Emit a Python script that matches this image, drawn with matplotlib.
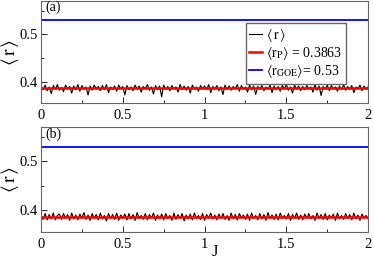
import numpy as np
import matplotlib
matplotlib.use("Agg")
import matplotlib.pyplot as plt
from matplotlib.ticker import MultipleLocator

plt.rcParams["font.family"] = ["Liberation Serif", "DejaVu Serif"]
plt.rcParams["mathtext.fontset"] = "stix"

# mean level-spacing ratio vs J, panel (a)
r_a = [
    0.390, 0.383, 0.393, 0.381, 0.389, 0.375, 0.392, 0.384, 0.394, 0.382,
    0.388, 0.379, 0.393, 0.385, 0.390, 0.376, 0.391, 0.383, 0.394, 0.380,
    0.392, 0.384, 0.389, 0.372, 0.391, 0.382, 0.393, 0.385, 0.390, 0.381,
    0.392, 0.383, 0.394, 0.377, 0.389, 0.384, 0.391, 0.380, 0.393, 0.385,
    0.390, 0.372, 0.392, 0.383, 0.389, 0.381, 0.393, 0.384, 0.391, 0.378,
    0.390, 0.385, 0.394, 0.382, 0.389, 0.374, 0.392, 0.383, 0.391, 0.368,
    0.393, 0.384, 0.390, 0.381, 0.392, 0.385, 0.389, 0.378, 0.394, 0.383,
    0.391, 0.382, 0.390, 0.376, 0.393, 0.384, 0.389, 0.380, 0.392, 0.385,
    0.391, 0.383, 0.394, 0.377, 0.390, 0.384, 0.392, 0.381, 0.389, 0.373,
    0.393, 0.383, 0.391, 0.382, 0.390, 0.385, 0.394, 0.380, 0.392, 0.384,
    0.389, 0.378, 0.393, 0.383, 0.391, 0.373, 0.390, 0.385, 0.392, 0.381,
    0.389, 0.384, 0.393, 0.377, 0.391, 0.383, 0.390, 0.380, 0.392, 0.385,
    0.394, 0.382, 0.389, 0.376, 0.393, 0.384, 0.391, 0.381, 0.390, 0.383,
    0.392, 0.385, 0.389, 0.378, 0.394, 0.382, 0.391, 0.371, 0.390, 0.384,
    0.393, 0.381, 0.392, 0.385, 0.389, 0.380, 0.391, 0.383, 0.394, 0.382,
    0.390, 0.384, 0.392, 0.377, 0.389, 0.385, 0.393, 0.381, 0.391, 0.384, 0.389,
]

# panel (b)
r_b = [
    0.390, 0.381, 0.393, 0.380, 0.391, 0.382, 0.394, 0.380, 0.389, 0.392,
    0.381, 0.393, 0.383, 0.391, 0.379, 0.394, 0.382, 0.390, 0.380, 0.392,
    0.384, 0.395, 0.381, 0.390, 0.379, 0.393, 0.383, 0.391, 0.380, 0.394,
    0.382, 0.389, 0.378, 0.393, 0.383, 0.391, 0.381, 0.394, 0.379, 0.390,
    0.384, 0.392, 0.380, 0.393, 0.382, 0.391, 0.379, 0.395, 0.383, 0.389,
    0.381, 0.393, 0.380, 0.391, 0.384, 0.394, 0.379, 0.390, 0.382, 0.392,
    0.380, 0.393, 0.383, 0.389, 0.379, 0.394, 0.381, 0.391, 0.383, 0.393,
    0.378, 0.390, 0.382, 0.392, 0.380, 0.394, 0.383, 0.389, 0.381, 0.393,
    0.379, 0.391, 0.384, 0.394, 0.382, 0.390, 0.380, 0.392, 0.383, 0.393,
    0.381, 0.389, 0.379, 0.394, 0.382, 0.391, 0.380, 0.393, 0.384, 0.390,
    0.381, 0.392, 0.379, 0.394, 0.383, 0.389, 0.380, 0.393, 0.382, 0.391,
    0.379, 0.395, 0.383, 0.390, 0.381, 0.392, 0.380, 0.394, 0.384, 0.389,
    0.382, 0.393, 0.379, 0.391, 0.383, 0.394, 0.381, 0.390, 0.380, 0.392,
    0.384, 0.393, 0.382, 0.389, 0.379, 0.394, 0.383, 0.391, 0.381, 0.393,
    0.380, 0.390, 0.384, 0.392, 0.379, 0.394, 0.382, 0.389, 0.381, 0.393,
    0.383, 0.391, 0.380, 0.394, 0.382, 0.390, 0.379, 0.392, 0.384, 0.389, 0.382,
]

r_poisson = 0.3863
r_goe = 0.53
panel_labels = ["(a)", "(b)"]

fig = plt.figure(figsize=(3.73, 2.59), dpi=100)
ax_top = fig.add_axes([0.110, 0.602, 0.877, 0.394])
ax_bot = fig.add_axes([0.110, 0.104, 0.877, 0.404])

for ax, r, lab in zip([ax_top, ax_bot], [r_a, r_b], panel_labels):
    J = np.linspace(0, 2, len(r))
    ax.plot(J, r, color="black", lw=0.8, label=r"$\langle\,\mathrm{r}\,\rangle$")
    ax.axhline(r_poisson, color="red", lw=1.8,
               label=r"$\langle\mathrm{r}_{\mathrm{P}}\rangle$ = 0.3863")
    ax.axhline(r_goe, color="blue", lw=1.3,
               label=r"$\langle\mathrm{r}_{\mathrm{GOE}}\rangle$= 0.53")
    ax.set_xlim(0, 2)
    ax.set_ylim(0.355, 0.57)
    ax.xaxis.set_major_locator(MultipleLocator(0.5))
    ax.xaxis.set_minor_locator(MultipleLocator(0.25))
    ax.yaxis.set_major_locator(MultipleLocator(0.1))
    ax.yaxis.set_minor_locator(MultipleLocator(0.05))
    ax.xaxis.set_major_formatter(plt.FuncFormatter(lambda v, p: f"{v:g}"))
    ax.tick_params(which="both", direction="in", top=False, right=False,
                   labelsize=10.5)
    ax.tick_params(axis="x", pad=4)
    ax.tick_params(axis="y", pad=2.5)
    ax.tick_params(which="major", length=4, width=0.6)
    ax.tick_params(which="minor", length=2.5, width=0.6)
    for s in ax.spines.values():
        s.set_color("#666666")
        s.set_linewidth(0.8)
    ax.set_ylabel(r"$\langle\,\mathrm{r}\,\rangle$", fontsize=14, va="center")
    ax.yaxis.set_label_coords(-0.095, 0.5)
    ax.text(0.012, 0.935, lab, transform=ax.transAxes, fontsize=10,
            ha="left", va="center")

ax_top.legend(loc="upper right", bbox_to_anchor=(0.933, 0.784), fontsize=10,
              handlelength=0.9, handletextpad=0.35, labelspacing=0.1,
              borderpad=0.25, borderaxespad=0, fancybox=False,
              edgecolor="#666666", framealpha=1)
ax_bot.set_xlabel("J", fontsize=12, va="center")
ax_bot.xaxis.set_label_coords(0.532, -0.19)

fig.savefig("out.png", dpi=100)
